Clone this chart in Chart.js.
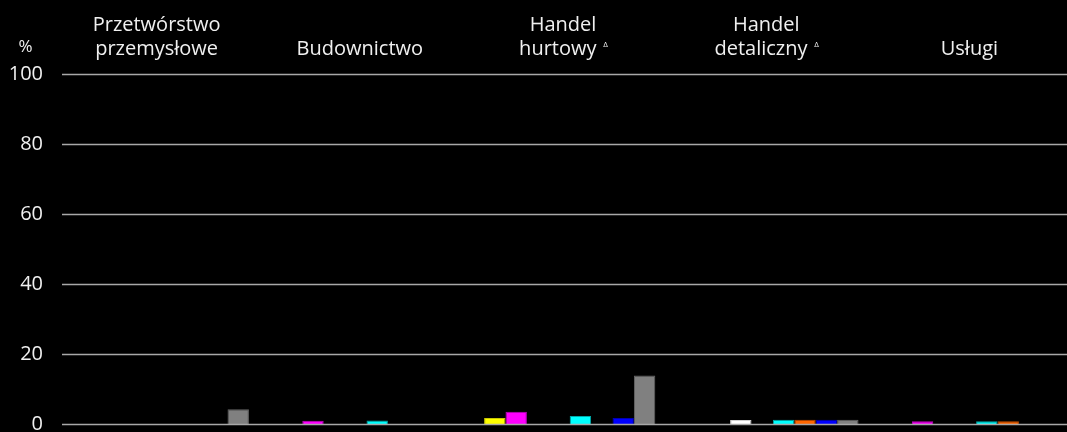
<!DOCTYPE html>
<html>
<head>
<meta charset="utf-8">
<script src="https://cdn.jsdelivr.net/npm/chart.js@4/dist/chart.umd.min.js"></script>
<style>
  html, body { margin: 0; padding: 0; background: #000; }
  canvas { display: block; }
</style>
</head>
<body>
<canvas id="chart" width="1067" height="432"></canvas>
<script>
// categories (second line gets a small delta mark where flagged)
const categories = [
    ['Przetwórstwo', 'przemysłowe'],
    'Budownictwo',
    ['Handel', 'hurtowy  '],
    ['Handel', 'detaliczny  '],
    'Usługi'
];
const deltaMarks = [false, false, true, true, false];

const yTicks = [0, 20, 40, 60, 80, 100];

// series, in bar order inside each category
const seriesNames = ['S1', 'S2', 'S3', 'S4', 'S5', 'S6', 'S7', 'S8', 'S9'];
const seriesColors = ['#000000', '#ffff00', '#ff00ff', '#ffffff', '#000000', '#00ffff', '#ff6600', '#0000ff', '#808080'];
const seriesBorders = ['#000000', '#c8c800', '#c000c0', '#d0d0d0', '#000000', '#00a8a8', '#c04c00', '#0000b0', '#666666'];

const s1 = [null, null, null, null, null];
const s2 = [null, null, 1.8, null, null];
const s3 = [null, 1.0, 3.6, null, 0.9];
const s4 = [null, null, null, 1.2, null];
const s5 = [null, null, null, null, null];
const s6 = [null, 1.1, 2.4, 1.3, 0.9];
const s7 = [null, null, null, 1.3, 0.9];
const s8 = [null, null, 1.8, 1.3, null];
const s9 = [4.3, null, 13.9, 1.3, null];
const seriesValues = [s1, s2, s3, s4, s5, s6, s7, s8, s9];

const textColor = '#f0f0f0';
const fontFamily = '"Open Sans", "Noto Sans", sans-serif';
const fontSize = 20;
const labelShift = 4;

const gridPlugin = {
    id: 'gridFromLeft',
    afterDatasetsDraw(chart) {
        const ctx = chart.ctx;
        const y = chart.scales.y;
        ctx.save();
        ctx.strokeStyle = '#a8a8a8';
        ctx.lineWidth = 1.3;
        yTicks.forEach(v => {
            const py = Math.round(y.getPixelForValue(v)) + 0.5;
            ctx.beginPath();
            ctx.moveTo(62, py);
            ctx.lineTo(chart.chartArea.right, py);
            ctx.stroke();
        });
        ctx.restore();
    }
};

const marksPlugin = {
    id: 'marks',
    afterDraw(chart) {
        const ctx = chart.ctx;
        const x = chart.scales.x;
        ctx.save();
        ctx.fillStyle = textColor;
        ctx.font = '17px ' + fontFamily;
        ctx.textAlign = 'center';
        ctx.textBaseline = 'alphabetic';
        ctx.fillText('%', 25.5, 51.5);

        categories.forEach((c, i) => {
            if (!deltaMarks[i]) return;
            const line = c[c.length - 1];
            ctx.font = fontSize + 'px ' + fontFamily;
            const full = ctx.measureText(line).width;
            const word = ctx.measureText(line.trim()).width;
            const cx = x.getPixelForValue(i) + labelShift;
            const px = cx - full / 2 + word + 9;
            ctx.font = '8px ' + fontFamily;
            ctx.fillText('Δ', px, 46.5);
        });
        ctx.restore();
    }
};

new Chart(document.getElementById('chart'), {
    type: 'bar',
    data: {
        labels: categories,
        datasets: seriesNames.map((name, i) => ({
            label: name,
            data: seriesValues[i],
            backgroundColor: seriesColors[i],
            borderColor: seriesBorders[i],
            borderWidth: 1,
            borderSkipped: 'start',
            barPercentage: 1.0,
            categoryPercentage: 0.948
        }))
    },
    options: {
        responsive: false,
        animation: false,
        layout: { padding: 0 },
        plugins: {
            legend: { display: false },
            tooltip: { enabled: false }
        },
        scales: {
            x: {
                position: 'top',
                grid: { display: false, drawTicks: false },
                border: { display: false },
                ticks: {
                    color: textColor,
                    font: { family: fontFamily, size: fontSize, lineHeight: 1.2 },
                    padding: 12.5,
                    labelOffset: labelShift,
                    maxRotation: 0,
                    autoSkip: false
                },
                afterFit(scale) {
                    scale.height = 74;
                    scale.paddingLeft = 0;
                    scale.paddingRight = 0;
                }
            },
            y: {
                min: 0,
                max: 100,
                grid: { display: false, drawTicks: false },
                border: { display: false },
                ticks: {
                    stepSize: 20,
                    color: textColor,
                    font: { family: fontFamily, size: fontSize },
                    padding: 8
                },
                afterFit(scale) {
                    scale.width = 51;
                    scale.paddingTop = 0;
                    scale.paddingBottom = 7.7;
                }
            }
        }
    },
    plugins: [gridPlugin, marksPlugin]
});
</script>
</body>
</html>
